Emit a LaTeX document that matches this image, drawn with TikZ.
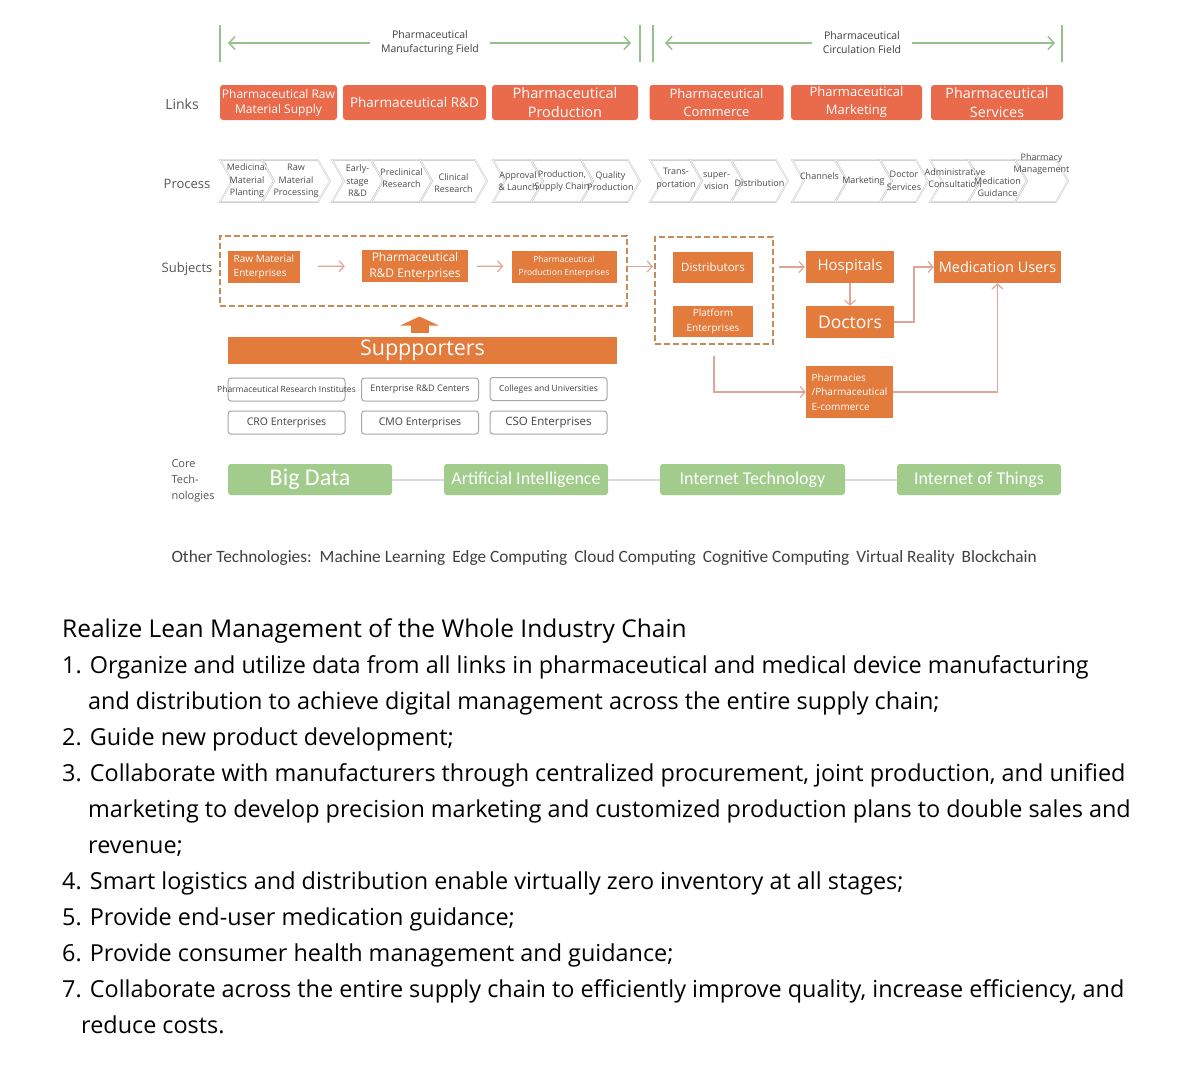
\documentclass[tikz,border=0pt]{standalone}
\usepackage{fontspec}
\setmainfont{Open Sans}
\newfontfamily\narrowfont{Carlito}
\usetikzlibrary{arrows.meta,calc}
\definecolor{linkred}{RGB}{234,106,76}
\definecolor{subjorange}{RGB}{226,123,60}
\definecolor{zonebrown}{RGB}{196,140,88}
\definecolor{flowpink}{RGB}{224,164,152}
\definecolor{fieldgreen}{RGB}{150,192,140}
\definecolor{techgreen}{RGB}{161,204,140}
\definecolor{labelgray}{RGB}{85,85,85}
\newcommand\sz[2]{\fontsize{#1}{#2}\selectfont}

\begin{document}
\begin{tikzpicture}[x=1pt,y=-1pt,every node/.style={text=labelgray},
    fieldline/.style={fieldgreen, line width=2pt},
    fieldarrow/.style={fieldgreen, line width=1.5pt, -{Straight Barb[length=6pt,width=13pt]}},
    linkbox/.style={fill=linkred, rounded corners=3pt, text=white, align=center, minimum height=35pt, inner sep=0pt},
    chev/.style={draw=gray!55, double=white, double distance=0.7pt},
    chevtext/.style={align=center, text=black!70, font=\sz{9}{12.5}, inner sep=0pt},
    subjbox/.style={fill=subjorange, text=white, minimum height=32pt, inner sep=0pt},
    zone/.style={draw=zonebrown, line width=2pt, dash pattern=on 6pt off 3pt},
    flow/.style={flowpink, line width=1.2pt, -{Straight Barb[length=5pt,width=11pt]}},
    uparrow/.style={subjorange, line width=18pt, -{Triangle[length=9pt,width=38pt]}},
    supbox/.style={draw=gray!70, rounded corners=3pt, line width=1pt, minimum width=117pt, minimum height=23pt, inner sep=0pt, text=black!75},
    techbox/.style={fill=techgreen, rounded corners=3pt, text=white, minimum height=31pt, font=\narrowfont\sz{18}{20}},
    techlink/.style={gray!30, line width=2pt},
    listline/.style={anchor=base west, text=black, font=\sz{23.4}{28}, inner sep=0pt}]
  \useasboundingbox (0,0) rectangle (1200,1068);
  \fill[white] (0,0) rectangle (1200,1068);

  % fields
  \draw[fieldline] (220,25) -- (220,62);
  \draw[fieldline] (640,25) -- (640,62);
  \draw[fieldline] (653,25) -- (653,62);
  \draw[fieldline] (1062,25) -- (1062,62);
  \node[align=center, font=\sz{10.5}{14}, inner xsep=11pt, text=black!75] (mfgfield) at (430,43) {Pharmaceutical\\Manufacturing Field};
  \node[align=center, font=\sz{10.5}{14}, inner xsep=11pt, text=black!75] (circfield) at (862,43) {Pharmaceutical\\Circulation Field};
  \coordinate (mfgleft) at (228,43);
  \coordinate (mfgright) at (631,43);
  \coordinate (circleft) at (665,43);
  \coordinate (circright) at (1055,43);
  \draw[fieldarrow] (mfgfield.west) -- (mfgleft);
  \draw[fieldarrow] (mfgfield.east) -- (mfgright);
  \draw[fieldarrow] (circfield.west) -- (circleft);
  \draw[fieldarrow] (circfield.east) -- (circright);

  % links
  \node[font=\sz{14}{16}] (links) at (182,104) {Links};
  \node[linkbox, minimum width=117pt, font=\sz{12}{15}] (lraw) at (278.5,102.5) {Pharmaceutical Raw\\Material Supply};
  \node[linkbox, minimum width=143pt, font=\sz{13.5}{16}] (lrd) at (414.5,102.5) {Pharmaceutical R\&D};
  \node[linkbox, minimum width=146pt, font=\sz{14.5}{19}] (lprod) at (565,102.5) {Pharmaceutical\\Production};
  \node[linkbox, minimum width=134pt, font=\sz{13}{18}] (lcom) at (716.5,102.5) {Pharmaceutical\\Commerce};
  \node[linkbox, minimum width=131pt, font=\sz{13}{18}] (lmkt) at (856.5,102.5) {Pharmaceutical\\Marketing};
  \node[linkbox, minimum width=132pt, font=\sz{14.3}{19}] (lsrv) at (997,102.5) {Pharmaceutical\\Services};

  % process
  \node[font=\sz{13}{16}] (process) at (187,184) {Process};
  \foreach \l/\r/\dy/\t [count=\i] in {
      220/262/0/{Medicinal\\Material\\Planting},
      262/318/0/{Raw\\Material\\Processing},
      332/371/0/{Early-\\stage\\R\&D},
      371/420/-3/{Preclinical\\Research},
      420/475/2/{Clinical\\Research},
      493/531/0/{Approval\\\& Launch},
      531/581/0/{Production,\\Supply Chain},
      581/628/0/{Quality\\Production},
      650/690/-2/{Trans-\\portation},
      690/731/0/{super-\\vision},
      731/776/2/{Distribution},
      792/835/-5/{Channels},
      835/880/0/{Marketing},
      880/916/0/{Doctor\\Services},
      930/968/-3/{Administrative\\Consultation},
      968/1015/6/{Medication\\Guidance},
      1015/1056/-17/{Pharmacy\\Management}} {
    \draw[chev] (\l,160) -- (\r,160) -- (\r+12,181) -- (\r,202) -- (\l,202) -- (\l+12,181) -- cycle;
    \node[chevtext] (proc\i) at ({(\l+\r+12)/2},181+\dy) {\t};
  }

  % subjects
  \node[font=\sz{13}{16}] (subjects) at (187,269) {Subjects};
  \node[zone, minimum width=407pt, minimum height=70pt] (zone1) at (423.5,270.5) {};
  \node[zone, minimum width=118pt, minimum height=107pt] (zone2) at (714,290.5) {};
  \node[subjbox, minimum width=72pt, font=\sz{10}{14}, align=left] (sraw) at (264,266.5) {Raw Material\\Enterprises};
  \node[subjbox, minimum width=106pt, font=\sz{12}{16}, align=center] (srd) at (415,266) {Pharmaceutical\\R\&D Enterprises};
  \node[subjbox, minimum width=105pt, font=\sz{8.5}{13}, align=center] (sprod) at (564,266.5) {Pharmaceutical\\Production Enterprises};
  \node[subjbox, minimum width=80pt, minimum height=31pt, font=\sz{11.5}{14}] (sdist) at (713,267.5) {Distributors};
  \node[subjbox, minimum width=80pt, minimum height=31pt, font=\sz{10}{15}, align=center] (splat) at (713,321.5) {Platform\\Enterprises};
  \node[subjbox, minimum width=88pt, font=\sz{15}{18}] (hosp) at (850,267) {Hospitals};
  \node[subjbox, minimum width=88pt, font=\sz{17.5}{20}] (doc) at (850,322) {Doctors};
  \node[subjbox, minimum width=127pt, font=\sz{14.5}{18}] (users) at (997.5,267) {Medication Users};
  \node[subjbox, minimum width=87pt, minimum height=52pt, font=\sz{10}{14.5}, align=left] (pharm) at (849.5,392) {Pharmacies\\/Pharmaceutical\\E-commerce};
  \draw[flow, shorten <=18pt, shorten >=17pt] (sraw) -- (srd);
  \draw[flow, shorten <=9pt, shorten >=8pt] (srd) -- (sprod);
  \draw[flow, shorten >=1pt] (zone1.east |- sprod.east) -- (zone2.west |- sprod.east);
  \draw[flow, shorten <=5pt, shorten >=1pt] (zone2.east |- hosp.west) -- (hosp.west);
  \draw[flow] (hosp) -- (doc);
  \draw[flow] (doc.east) -| ($(doc.east)!.5!(users.west)$) |- (users.west);
  \draw[flow] ([yshift=-11pt]zone2.south) |- (pharm.west);
  \draw[flow] (pharm.east) -| (users.south);

  % supporters
  \node[fill=subjorange, text=white, minimum width=389pt, minimum height=27pt, inner sep=0pt, font=\sz{21.5}{24}] (sup) at (422.5,350.5) {Suppporters};
  \draw[uparrow, shorten <=4pt, shorten >=10pt] ([xshift=-3pt]sup.north) -- ([xshift=-4pt]zone1.south);
  \node[supbox, font=\sz{8.5}{10}] (sinst) at (286.5,389.5) {\makebox[100pt]{Pharmaceutical Research Institutes}};
  \node[supbox, font=\sz{9}{10}] (scenter) at (420,389.5) {Enterprise R\&D Centers};
  \node[supbox, font=\sz{8.5}{10}] (scoll) at (548.5,389) {Colleges and Universities};
  \node[supbox, font=\sz{10.5}{12}] (scro) at (286.5,422.5) {CRO Enterprises};
  \node[supbox, font=\sz{10.5}{12}] (scmo) at (420,422.5) {CMO Enterprises};
  \node[supbox, font=\sz{11.5}{13}] (scso) at (548.5,422.5) {CSO Enterprises};

  % core technologies
  \node[anchor=west, align=left, font=\sz{11}{16}] (core) at (168,481) {Core\\Tech-\\nologies};
  \node[techbox, minimum width=164pt, font=\narrowfont\sz{24}{26}] (bigdata) at (310,479.5) {Big Data};
  \node[techbox, minimum width=164pt] (ai) at (526,479.5) {Artificial Intelligence};
  \node[techbox, minimum width=185pt] (inet) at (752.5,479.5) {Internet Technology};
  \node[techbox, minimum width=164pt] (iot) at (979,479.5) {Internet of Things};
  \draw[techlink] (bigdata) -- (ai);
  \draw[techlink] (ai) -- (inet);
  \draw[techlink] (inet) -- (iot);
  \node[anchor=west, font=\narrowfont\sz{17.3}{19}, text=black!75] (others) at (168,558) {Other Technologies:\hspace{8pt}Machine Learning\hspace{7pt}Edge Computing\hspace{7pt}Cloud Computing\hspace{7pt}Cognitive Computing\hspace{7pt}Virtual Reality\hspace{7pt}Blockchain};

  % goals
  \node[listline, font=\sz{24.5}{28}] (goal0) at (62,637) {Realize Lean Management of the Whole Industry Chain};
  \foreach \y/\x/\t [count=\i] in {
      673/62/{1. Organize and utilize data from all links in pharmaceutical and medical device manufacturing},
      709/88/{and distribution to achieve digital management across the entire supply chain;},
      745/62/{2. Guide new product development;},
      781/62/{3. Collaborate with manufacturers through centralized procurement, joint production, and unified},
      817/88/{marketing to develop precision marketing and customized production plans to double sales and},
      853/88/{revenue;},
      889/62/{4. Smart logistics and distribution enable virtually zero inventory at all stages;},
      925/62/{5. Provide end-user medication guidance;},
      961/62/{6. Provide consumer health management and guidance;},
      997/62/{7. Collaborate across the entire supply chain to efficiently improve quality, increase efficiency, and},
      1033/81/{reduce costs.}} {
    \node[listline] (goal\i) at (\x,\y) {\t};
  }
\end{tikzpicture}
\end{document}
